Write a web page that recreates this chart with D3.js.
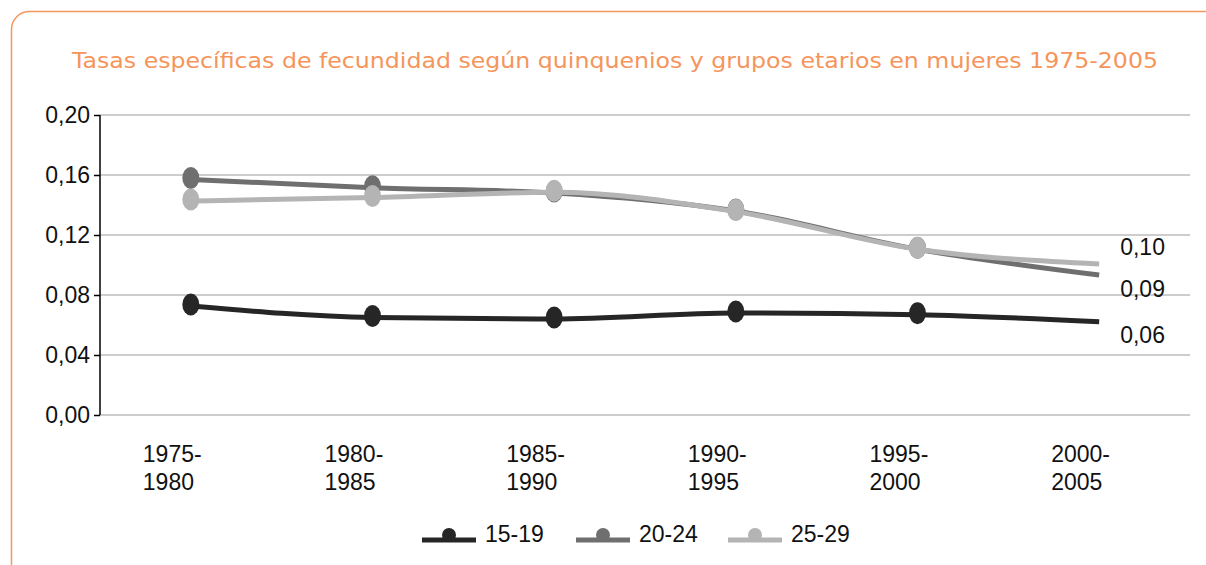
<!DOCTYPE html>
<html>
<head>
<meta charset="utf-8">
<script src="https://d3js.org/d3.v7.min.js"></script>
<style>
  body { margin: 0; background: #fff; }
  svg { display: block; }
</style>
</head>
<body>
<div id="root"></div>
<script>
const w = 1206;
const h = 565;
const margin = { top: 115, bottom: 150, left: 100, right: 16 };

const periods = ["1975-1980", "1980-1985", "1985-1990", "1990-1995", "1995-2000", "2000-2005"];
const yTicks = [0, 0.04, 0.08, 0.12, 0.16, 0.20];
const groups = ["15-19", "20-24", "25-29"];
const colors = ["#262626", "#6f6f6f", "#b4b4b4"];
const v1519 = [0.0727, 0.0650, 0.0640, 0.0680, 0.0668, 0.0622];
const v2024 = [0.1570, 0.1515, 0.1480, 0.1360, 0.1105, 0.0933];
const v2529 = [0.1427, 0.1450, 0.1485, 0.1356, 0.1105, 0.1007];
const endLabels = ["0,06", "0,09", "0,10"];

const series = [v1519, v2024, v2529];
const title = "Tasas específicas de fecundidad según quinquenios y grupos etarios en mujeres 1975-2005";

const svg = d3.select("#root")
    .append("svg")
    .attr("width", w)
    .attr("height", h);

// frame
svg.append("rect")
    .attr("x", 11.5)
    .attr("y", 11.5)
    .attr("width", 1240)
    .attr("height", 600)
    .attr("rx", 18)
    .attr("fill", "none")
    .attr("stroke", "#f5975e")
    .attr("stroke-width", 1.5);

// title
svg.append("text")
    .attr("x", 615)
    .attr("y", 68)
    .attr("text-anchor", "middle")
    .attr("fill", "#f5955c")
    .style("font-family", "'DejaVu Sans', Verdana, sans-serif")
    .style("font-size", "22px")
    .attr("textLength", 1086)
    .attr("lengthAdjust", "spacingAndGlyphs")
    .text(title);

const xScale = d3.scalePoint()
    .domain(periods)
    .range([margin.left, w - margin.right])
    .padding(0.5);

const yScale = d3.scaleLinear()
    .domain([0, 0.20])
    .range([h - margin.bottom, margin.top]);

const fmt = d => d.toFixed(2).replace(".", ",");
const font = "'Liberation Sans', Arial, sans-serif";

// grid
svg.append("g")
    .selectAll("line")
    .data(yTicks)
    .enter()
    .append("line")
    .attr("x1", margin.left)
    .attr("x2", w - margin.right)
    .attr("y1", d => yScale(d))
    .attr("y2", d => yScale(d))
    .attr("stroke", "#bdbdbd")
    .attr("stroke-width", 1.5);

// y-axis
const yAxis = d3.axisLeft(yScale).tickValues(yTicks).tickFormat(fmt).tickSize(6).tickPadding(4);
const yG = svg.append("g")
    .attr("transform", "translate(" + margin.left + ",0)")
    .call(yAxis);
yG.select(".domain").attr("stroke", "#000").attr("stroke-width", 1.5).attr("d", "M0," + yScale(0.20) + "V" + yScale(0));
yG.selectAll(".tick line").attr("stroke", "#000").attr("stroke-width", 1.5);
yG.selectAll(".tick text")
    .style("font-family", font)
    .style("font-size", "23px")
    .attr("fill", "#111");

// x labels (two lines)
const xLab = svg.append("g")
    .selectAll("text")
    .data(periods)
    .enter()
    .append("text")
    .attr("y", 462)
    .style("font-family", font)
    .style("font-size", "23px")
    .attr("fill", "#111");
xLab.append("tspan")
    .attr("x", d => xScale(d) - 48)
    .text(d => d.split("-")[0] + "-");
xLab.append("tspan")
    .attr("x", d => xScale(d) - 48)
    .attr("dy", 28)
    .text(d => d.split("-")[1]);

// lines
const line = d3.line()
    .x((d, i) => xScale(periods[i]))
    .y(d => yScale(d))
    .curve(d3.curveMonotoneX);

// draw lighter series on top like the original
[1, 0, 2].forEach(k => {
    svg.append("path")
        .datum(series[k])
        .attr("fill", "none")
        .attr("stroke", colors[k])
        .attr("stroke-width", 5)
        .attr("d", line);
    svg.append("g")
        .selectAll("ellipse")
        .data(series[k].slice(0, periods.length - 1))
        .enter()
        .append("ellipse")
        .attr("cx", (d, i) => xScale(periods[i]))
        .attr("cy", d => yScale(d) - 1.5)
        .attr("rx", 8.5)
        .attr("ry", 11)
        .attr("fill", colors[k]);
});

// end labels
const lastP = periods[periods.length - 1];
const endOffsets = [21, 22, -9];
svg.append("g")
    .selectAll("text")
    .data(series)
    .enter()
    .append("text")
    .attr("x", xScale(lastP) + 21)
    .attr("y", (d, i) => yScale(d[d.length - 1]) + endOffsets[i])
    .style("font-family", font)
    .style("font-size", "23px")
    .attr("fill", "#111")
    .text((d, i) => endLabels[i]);

// legend
const legendX = [422, 576, 728];
const legend = svg.append("g");
groups.forEach((g, i) => {
    const lg = legend.append("g").attr("transform", "translate(" + legendX[i] + ",0)");
    lg.append("line")
        .attr("x1", 0).attr("x2", 54)
        .attr("y1", 540).attr("y2", 540)
        .attr("stroke", colors[i])
        .attr("stroke-width", 5);
    lg.append("circle")
        .attr("cx", 27).attr("cy", 535)
        .attr("r", 7)
        .attr("fill", colors[i]);
    lg.append("text")
        .attr("x", 63)
        .attr("y", 542)
        .style("font-family", font)
        .style("font-size", "23px")
        .attr("fill", "#111")
        .text(g);
});
</script>
</body>
</html>
